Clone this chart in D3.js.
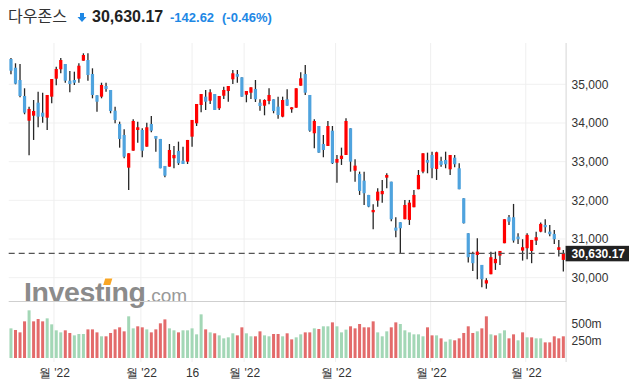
<!DOCTYPE html>
<html>
<head>
<meta charset="utf-8">
<script src="https://cdn.jsdelivr.net/npm/d3@7"></script>
<style>
  body { margin: 0; background: #fff; }
  svg { display: block; font-family: "Liberation Sans", Arial, sans-serif; }
</style>
</head>
<body>
<svg id="chart" width="629" height="385"></svg>
<script>
// daily candles
const opens = [35654,35429,35111,34698,34059,34189,34525,34266,34137,34680,35145,35388,35525,35093,35111,35145,35610,35628,35266,34716,
  34680,34956,34853,34318,33974,33690,32845,33284,33819,33819,33388,33974,33664,33587,32889,32871,33088,33277,33026,33000,
  33646,33992,34465,34680,34576,34749,34380,34705,34827,35129,35266,35181,34731,34783,34879,34525,34447,34568,34612,34421,
  34163,34612,34354,34395,34964,35266,34724,33734,33922,33457,33406,33801,32974,33070,33173,33863,32767,32682,32509,32140,
  31692,31992,32158,32586,32483,31295,31434,31512,31494,31822,32287,32742,33044,33173,32811,33018,33044,32803,33103,32829,
  32054,31150,30615,30589,30331,29849,30090,30375,30571,30891,31563,31563,31062,30700,30762,30692,30959,31191,31364,31191,
  31132,30718,30460];
const highs = [35680,35543,35525,34897,34421,34594,34809,34783,34724,35137,35455,35680,35525,35344,35326,35543,35801,35801,35413,34716,
  35041,35041,34853,34421,34034,33837,33217,34096,34034,33863,34008,34181,33664,33587,32889,33457,33406,33517,33388,33561,
  34078,34491,34749,34853,34871,34749,34698,34938,34956,35370,35370,35181,34827,34922,35111,34612,34612,34897,34612,34680,
  34680,34871,34406,34897,35310,35499,34724,34096,33922,33690,34052,33922,33173,33362,34121,33863,33062,32742,32742,32140,
  31899,32313,32527,32700,32483,31563,31434,32010,32010,32269,32785,33217,33233,33258,33258,33129,33258,33173,33173,32958,
  32054,31150,30674,31021,30331,29987,30674,30674,30692,31512,31623,31907,31150,30995,31150,30976,31191,31424,31512,31364,
  31235,30976,30718];
const lows = [35258,35000,34664,34225,33165,33561,33889,34008,33819,34509,34974,35284,35041,34793,34982,35041,35610,35093,34638,34292,
  34638,34809,34251,33992,33362,33088,32269,33284,33491,33114,33388,33760,33258,32829,32597,32871,32829,32915,32940,32940,
  33388,33922,34276,34336,34491,34336,34336,34620,34550,35008,35041,34680,34535,34620,34543,34318,34199,34483,34251,34111,
  34147,34447,34266,34395,34964,34724,33775,33346,33233,33114,33406,32940,32457,32915,33173,32742,32483,32140,31881,31822,
  31253,31837,31940,32313,31460,31046,30633,31512,31364,31822,32287,32700,32700,32571,32527,32871,32829,32656,32855,32287,
  31400,30390,30176,29961,29754,29715,30090,30202,30331,30891,31364,30907,30873,30442,30478,30375,30847,31176,31165,31072,
  30873,30545,30158];
const closes = [35351,35016,34698,34266,34362,34310,34163,34163,34724,35137,35395,35628,35093,35008,35041,35481,35757,35240,34724,34550,
  34982,34878,34310,34078,33587,33129,33217,34052,33889,33284,33889,33801,33594,32829,32638,33302,33173,32959,32940,33561,
  34078,34491,34749,34550,34793,34336,34698,34853,34956,35284,35196,34680,34827,34922,34612,34439,34594,34724,34310,34207,
  34594,34447,34406,34897,35155,34783,33801,34052,33233,33302,33922,32959,33070,33155,34052,33000,32897,32243,32183,31837,
  31752,32225,32243,32656,31512,31217,31279,31881,31940,32140,32656,33217,32974,32829,33243,32915,32933,33173,32933,32287,
  31408,30530,30375,30674,29961,29935,30530,30486,30692,31512,31450,30959,30995,30788,31107,30976,31046,31391,31305,31124,
  30995,30788,30630];

// volume in millions, and its colour direction (1 = green, -1 = red)
const volumes = [436,412,377,539,701,539,573,539,583,495,407,377,407,368,333,353,353,421,421,377,
  319,319,368,421,451,392,613,436,466,451,421,377,421,510,568,436,407,377,407,407,
  436,348,642,421,377,363,333,289,304,363,333,451,363,319,319,392,333,319,353,353,
  319,363,274,304,348,377,377,436,426,466,466,524,466,377,417,466,436,500,451,451,
  539,377,319,392,451,524,500,407,377,348,348,319,451,333,333,289,240,274,260,289,
  368,466,368,392,436,613,348,333,363,407,289,348,260,377,304,304,289,289,230,230,
  319,289,319];
const volDir = [1,-1,-1,-1,1,-1,-1,-1,1,1,1,1,-1,-1,1,1,1,-1,-1,-1,
  1,-1,-1,-1,-1,-1,1,1,-1,-1,1,-1,-1,-1,-1,1,1,-1,1,1,
  1,1,1,-1,1,-1,1,1,1,1,-1,-1,1,1,-1,-1,1,1,-1,-1,
  1,-1,-1,1,1,-1,-1,1,-1,1,1,-1,1,1,1,-1,-1,-1,-1,-1,
  -1,1,1,1,-1,-1,1,1,1,1,1,1,-1,-1,1,-1,1,1,-1,-1,
  -1,-1,-1,1,-1,-1,1,-1,1,1,-1,-1,1,-1,1,-1,1,1,-1,-1,
  -1,-1,-1];

const priceTicks = [30000, 31000, 32000, 33000, 34000, 35000];
const volTicks = [250, 500];
const dateTicks = [9.5, 28.7, 40, 51.5, 71.7, 92.7, 113.7];
const dateLabels = ["월 '22", "월 '22", "16", "월 '22", "월 '22", "월 '22", "월 '22"];
const lastPrice = 30630.17;
const change = "-142.62";
const changePct = "(-0.46%)";
const title = "다우존스";

const UP = "#ff0000", DOWN = "#4fa3de", WICK = "#262626";
const VOL_UP = "#a3d7b6", VOL_DOWN = "#e36b6b";

const svg = d3.select("#chart");
const left = 8.7, right = 565.6;
const n = opens.length;
const x = d3.scaleLinear().domain([-0.5, n - 0.5]).range([left, right]);
const y = d3.scaleLinear().domain([30000, 35000]).range([277.7, 84.3]);
const yv = d3.scaleLinear().domain([0, 500]).range([358, 324]);

// grid
svg.append("g").selectAll("line").data(priceTicks).join("line")
  .attr("x1", left).attr("x2", right)
  .attr("y1", d => y(d)).attr("y2", d => y(d))
  .attr("stroke", "#f1f1f1");
svg.append("g").selectAll("line").data(dateTicks).join("line")
  .attr("x1", d => x(d)).attr("x2", d => x(d))
  .attr("y1", 43).attr("y2", 362)
  .attr("stroke", "#efefef");

// watermark
const wm = svg.append("g").attr("fill", "#8b8b8b");
const inv = wm.append("text").attr("x", 24).attr("y", 302)
  .attr("font-size", 28.5).attr("font-weight", "bold").attr("letter-spacing", -0.4)
  .text("Investing");
{
  const node = inv.node();
  const ix = 24 + node.getSubStringLength(0, 6);
  const iw = node.getSubStringLength(6, 1);
  const end = 24 + node.getComputedTextLength();
  wm.append("text").attr("x", end + 0.5).attr("y", 302)
    .attr("font-size", 19).attr("fill", "#999")
    .text(".com");
  wm.append("rect").attr("x", ix - 1).attr("y", 277).attr("width", iw + 1).attr("height", 8).attr("fill", "#fff");
  wm.append("path")
    .attr("d", `M${ix + 1.2},278.5 L${ix + iw + 0.8},278.5 L${ix + iw - 1.2},285 L${ix - 0.8},285 Z`)
    .attr("fill", "#f8a626");
}

// separators
svg.append("line").attr("x1", left).attr("x2", right + 0.4).attr("y1", 301.5).attr("y2", 301.5)
  .attr("stroke", "#cfcfcf");
svg.append("line").attr("x1", right + 0.5).attr("x2", right + 0.5).attr("y1", 43).attr("y2", 362)
  .attr("stroke", "#d6d6d6");

// volume
const bw = 3;
svg.append("g").selectAll("rect").data(volumes).join("rect")
  .attr("x", (d, i) => x(i) - bw / 2)
  .attr("y", d => yv(d))
  .attr("width", bw)
  .attr("height", d => yv(0) - yv(d))
  .attr("fill", (d, i) => volDir[i] > 0 ? VOL_UP : VOL_DOWN);

// candles
const candles = svg.append("g").selectAll("g").data(opens).join("g");
candles.append("line")
  .attr("x1", (d, i) => x(i)).attr("x2", (d, i) => x(i))
  .attr("y1", (d, i) => y(highs[i])).attr("y2", (d, i) => y(lows[i]))
  .attr("stroke", WICK).attr("stroke-width", 1.3);
candles.append("rect")
  .attr("x", (d, i) => x(i) - 1.6)
  .attr("width", 3.2)
  .attr("y", (d, i) => y(Math.max(d, closes[i])))
  .attr("height", (d, i) => Math.max(1.2, Math.abs(y(d) - y(closes[i]))))
  .attr("fill", (d, i) => closes[i] >= d ? UP : DOWN);

// current price line
svg.append("line").attr("x1", left).attr("x2", right).attr("y1", y(lastPrice)).attr("y2", y(lastPrice))
  .attr("stroke", "#555").attr("stroke-width", 1.2).attr("stroke-dasharray", "6,4");

// axes
const ax = svg.append("g").attr("transform", `translate(${right},0)`)
  .call(d3.axisRight(y).tickValues(priceTicks).tickFormat(d3.format(",")).tickSize(0).tickPadding(6));
const av = svg.append("g").attr("transform", `translate(${right},0)`)
  .call(d3.axisRight(yv).tickValues(volTicks).tickFormat(d => d + "m").tickSize(0).tickPadding(6));
const axb = svg.append("g").attr("transform", "translate(0,362)")
  .call(d3.axisBottom(x).tickValues(dateTicks).tickFormat((d, i) => dateLabels[i]).tickSize(0).tickPadding(6.5));
[ax, av, axb].forEach(g => {
  g.select(".domain").remove();
  g.selectAll("text").attr("font-size", 12).attr("fill", "#333")
    .attr("font-family", '"Liberation Sans", Arial, sans-serif');
});

// last price tag
const tagY = y(lastPrice);
svg.append("rect").attr("x", right).attr("y", tagY - 7.5).attr("width", 629 - right).attr("height", 15.5)
  .attr("fill", "#222");
svg.append("text").attr("x", right + 6).attr("y", tagY + 4.3)
  .attr("font-size", 12).attr("font-weight", "bold").attr("fill", "#fff")
  .text(d3.format(",.2f")(lastPrice));

// header
const head = svg.append("g");
head.append("text").attr("x", 8).attr("y", 22).attr("font-size", 16).attr("fill", "#333")
  .attr("font-family", '"Noto Sans CJK KR", sans-serif').text(title);
head.append("path")
  .attr("d", "M80,13 L84,13 L84,17 L86.5,17 L82,22 L77.5,17 L80,17 Z")
  .attr("fill", "#1e88e5");
head.append("text").attr("x", 92).attr("y", 22).attr("font-size", 16).attr("font-weight", "bold")
  .attr("fill", "#222").text(d3.format(",.2f")(lastPrice));
head.append("text").attr("x", 170).attr("y", 21.5).attr("font-size", 13).attr("font-weight", "bold")
  .attr("fill", "#1e88e5").text(change);
head.append("text").attr("x", 222).attr("y", 21.5).attr("font-size", 13).attr("font-weight", "bold")
  .attr("fill", "#1e88e5").text(changePct);
</script>
</body>
</html>
